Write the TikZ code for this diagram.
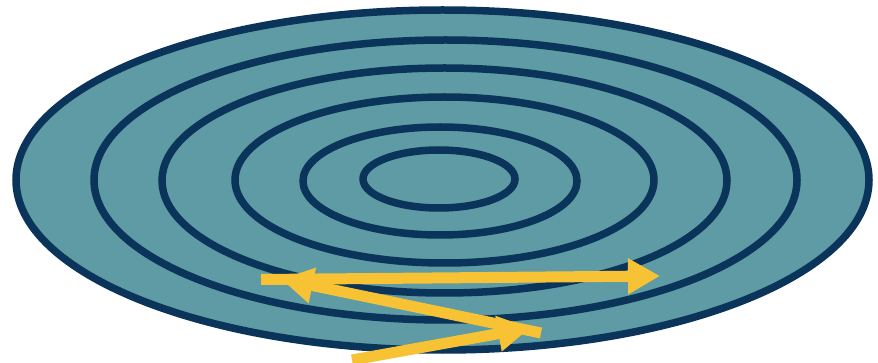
\documentclass[tikz,border=0pt]{standalone}
\usetikzlibrary{arrows.meta}
\definecolor{ringfill}{HTML}{5E9BA4}
\definecolor{ringline}{HTML}{0A3459}
\definecolor{arrowy}{HTML}{F7C233}
\begin{document}
\begin{tikzpicture}[x=1pt,y=-1pt,
  ring/.style={draw=ringline,line width=7.5pt},
  yarrow/.style={draw=arrowy,line width=11pt,
    -{Triangle[length=32pt,width=34pt]}}]
\useasboundingbox (0,0) rectangle (878,363);
\fill[ringfill] (442.5,180) ellipse [x radius=426.5,y radius=170];
\draw[ring] (442.5,180) ellipse [x radius=426.5,y radius=170];
\draw[ring] (445.5,180) ellipse [x radius=351.5,y radius=140];
\draw[ring] (444.5,180.5) ellipse [x radius=282.5,y radius=112.5];
\draw[ring] (444.5,180) ellipse [x radius=209.5,y radius=83];
\draw[ring] (440,181) ellipse [x radius=137,y radius=54];
\draw[ring] (439,179) ellipse [x radius=76,y radius=29];
\coordinate (a1s) at (261,279.5);
\coordinate (a1e) at (660,276);
\coordinate (a2s) at (541,333);
\coordinate (a2e) at (281,279);
\coordinate (a3s) at (352,360);
\coordinate (a3e) at (530,328);
\draw[yarrow] (a1s) -- (a1e);
\draw[yarrow] (a2s) -- (a2e);
\draw[yarrow] (a3s) -- (a3e);
\end{tikzpicture}
\end{document}
